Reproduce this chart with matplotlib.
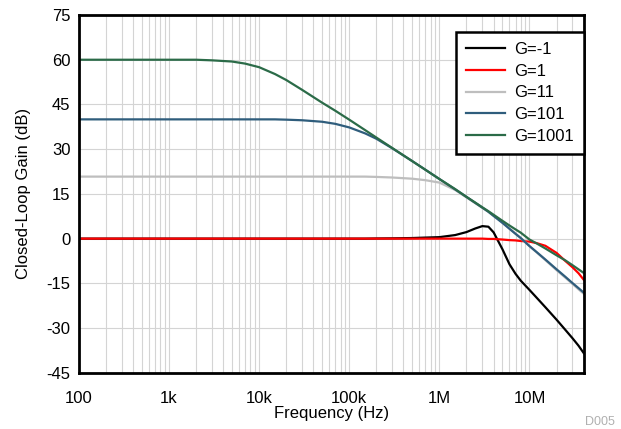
import matplotlib
matplotlib.use("Agg")
from matplotlib import pyplot as plt
from matplotlib.ticker import FixedLocator, LogLocator, NullFormatter

plt.rcParams['font.family'] = ['Liberation Sans', 'DejaVu Sans']
plt.rcParams['axes.unicode_minus'] = False

# frequency points (Hz)
freq = [100, 1e3, 2e3, 3e3, 5e3, 7e3, 10e3, 15e3, 20e3, 30e3, 50e3, 70e3,
        100e3, 150e3, 200e3, 300e3, 500e3, 700e3, 1e6, 1.5e6, 2e6, 2.5e6,
        3e6, 3.5e6, 4e6, 5e6, 6e6, 7e6, 8e6, 10e6, 12e6, 15e6, 20e6, 25e6,
        30e6, 35e6, 40e6]

# closed-loop gain (dB) per gain setting
g_m1 = [0.0, 0.0, 0.0, 0.0, 0.0, 0.0, 0.0, 0.0, 0.0, 0.0, 0.0, 0.0,
        0.0, 0.0, 0.05, 0.1, 0.2, 0.35, 0.5, 1.2, 2.2, 3.4,
        4.2, 4.0, 2.1, -3.5, -8.6, -11.8, -14.1, -17.2, -19.8, -23.0, -27.2, -30.6,
        -33.4, -35.9, -38.4]
g_1 = [0.0, 0.0, 0.0, 0.0, 0.0, 0.0, 0.0, 0.0, 0.0, 0.0, 0.0, 0.0,
       0.0, 0.0, 0.0, 0.0, 0.0, 0.0, 0.0, 0.0, 0.0, 0.0,
       0.0, -0.1, -0.1, -0.3, -0.5, -0.6, -0.8, -1.0, -1.5, -2.4, -4.8, -7.5,
       -9.6, -11.6, -13.8]
g_11 = [20.8, 20.8, 20.8, 20.8, 20.8, 20.8, 20.8, 20.8, 20.8, 20.8, 20.8, 20.8,
        20.8, 20.8, 20.7, 20.5, 20.1, 19.6, 18.8, 16.3, 13.8, 11.9,
        10.3, 9.0, 7.7, 5.5, 3.4, 1.7, 0.2, -2.5, -4.6, -7.2, -10.6, -13.1,
        -15.2, -17.0, -18.5]
g_101 = [40.0, 40.0, 40.0, 40.0, 40.0, 40.0, 40.0, 40.0, 39.9, 39.7, 39.2, 38.5,
         37.3, 35.3, 33.5, 30.3, 26.0, 23.1, 20.0, 16.5, 14.0, 12.0,
         10.4, 9.0, 7.6, 5.3, 3.3, 1.6, 0.2, -2.5, -4.5, -7.0, -10.3, -12.8,
         -14.9, -16.6, -18.1]
g_1001 = [60.0, 60.0, 60.0, 59.8, 59.4, 58.7, 57.5, 55.2, 53.2, 49.9, 45.6, 42.9,
          39.9, 36.4, 33.9, 30.4, 26.0, 23.1, 20.0, 16.6, 14.0, 12.1,
          10.5, 9.2, 8.0, 6.0, 4.4, 3.1, 2.0, -0.3, -1.6, -3.3, -5.6, -7.3,
          -8.9, -10.3, -11.5]

x_ticks = [100, 1e3, 1e4, 1e5, 1e6, 1e7]
x_labels = ['100', '1k', '10k', '100k', '1M', '10M']
y_ticks = [-45, -30, -15, 0, 15, 30, 45, 60, 75]

fig = plt.figure(figsize=(6.21, 4.29), dpi=100)
ax = fig.add_axes([0.127, 0.131, 0.813, 0.834])

ax.plot(freq, g_m1, color='black', lw=1.6, label='G=-1')
ax.plot(freq, g_1, color='#FF0000', lw=1.6, label='G=1')
ax.plot(freq, g_11, color='#BEBEBE', lw=1.6, label='G=11')
ax.plot(freq, g_101, color='#2F5D7C', lw=1.6, label='G=101')
ax.plot(freq, g_1001, color='#2B6B48', lw=1.6, label='G=1001')

ax.set_xscale('log')
ax.set_xlim(100, 40e6)
ax.set_ylim(-45, 75)
ax.xaxis.set_major_locator(FixedLocator(x_ticks))
ax.set_xticklabels(x_labels)
ax.xaxis.set_minor_locator(LogLocator(base=10, subs=range(2, 10), numticks=20))
ax.xaxis.set_minor_formatter(NullFormatter())
ax.set_yticks(y_ticks)

#grid
ax.grid(True, which='both', axis='x', color='#D4D4D4', lw=0.8)
ax.grid(True, which='major', axis='y', color='#D4D4D4', lw=0.8)
ax.set_axisbelow(True)

ax.tick_params(which='both', length=0)
ax.tick_params(axis='x', labelsize=12, pad=13)
ax.tick_params(axis='y', labelsize=12, pad=6)
for s in ax.spines.values():
    s.set_linewidth(2)
    s.set_color('black')

ax.set_xlabel('Frequency (Hz)', fontsize=12, labelpad=0)
ax.set_ylabel('Closed-Loop Gain (dB)', fontsize=12, labelpad=11)

leg = ax.legend(loc='upper right', bbox_to_anchor=(1.0, 0.9525), borderaxespad=0,
                fontsize=12, fancybox=False, framealpha=1, edgecolor='black',
                handlelength=2.3, handletextpad=0.55, labelspacing=0.4,
                borderpad=0.6)
leg.get_frame().set_linewidth(1.8)

fig.text(0.966, 0.010, 'D005', fontsize=9, color='#B0B0B0', ha='center')

fig.savefig('out.png', dpi=100)
